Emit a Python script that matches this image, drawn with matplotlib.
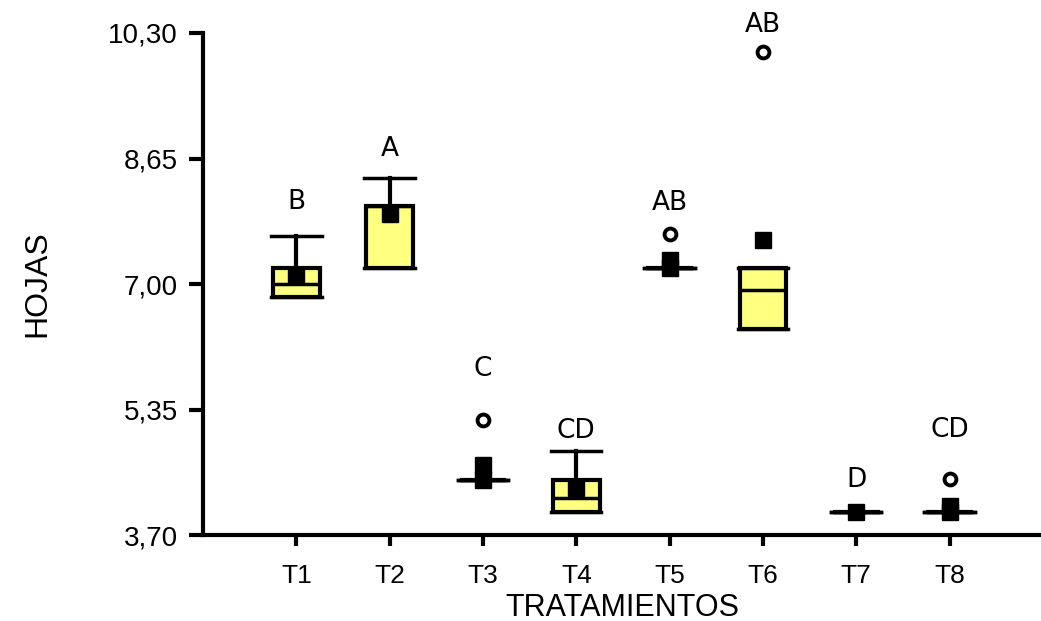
import matplotlib
matplotlib.use("Agg")
import matplotlib.pyplot as plt

categories = ["T1", "T2", "T3", "T4", "T5", "T6", "T7", "T8"]
q1 = [6.83, 7.21, 4.43, 4.00, 7.21, 6.41, 4.00, 4.00]
median = [7.00, 8.02, 4.43, 4.19, 7.21, 6.92, 4.00, 4.00]
q3 = [7.21, 8.02, 4.43, 4.43, 7.21, 7.21, 4.00, 4.00]
whis_lo = [6.83, 7.21, 4.43, 4.00, 7.21, 6.41, 4.00, 4.00]
whis_hi = [7.63, 8.40, 4.43, 4.81, 7.21, 7.21, 4.00, 4.00]
outliers = [[], [], [5.22], [], [7.66], [10.05], [], [4.44]]
means = [[7.12], [7.92], [4.62, 4.43], [4.32], [7.32, 7.21], [7.58], [4.00], [4.09, 4.00]]
letters = ["B", "A", "C", "CD", "AB", "AB", "D", "CD"]
letter_y = [8.08, 8.78, 5.88, 5.07, 8.07, 10.40, 4.43, 5.08]
yticks = [3.70, 5.35, 7.00, 8.65, 10.30]
ytick_labels = ["3,70", "5,35", "7,00", "8,65", "10,30"]

fig = plt.figure(figsize=(10.41, 6.21), dpi=100)
ax = fig.add_axes([0.195, 0.138, 0.805, 0.809])

positions = list(range(1, len(categories) + 1))
stats = []
for i in range(len(categories)):
    stats.append(dict(med=median[i], q1=q1[i], q3=q3[i], whislo=whis_lo[i],
                      whishi=whis_hi[i], fliers=outliers[i], label=categories[i]))

ax.bxp(stats, positions=positions, widths=0.5, patch_artist=True,
       showfliers=True,
       boxprops=dict(facecolor="#FFFF80", edgecolor="black", linewidth=3),
       medianprops=dict(color="black", linewidth=2.5),
       whiskerprops=dict(color="black", linewidth=3),
       capprops=dict(color="black", linewidth=2.5),
       capwidths=0.54,
       flierprops=dict(marker="o", markersize=8.5, markerfacecolor="white",
                       markeredgecolor="black", markeredgewidth=2.8))

for i, ms in enumerate(means):
    ax.plot([positions[i]] * len(ms), ms, linestyle="none", marker="s",
            markersize=11, color="black", zorder=5)

for i, lab in enumerate(letters):
    ax.text(positions[i], letter_y[i], lab, ha="center", va="center",
            fontsize=19, family="DejaVu Sans", clip_on=False)

ax.set_xlim(0, 8.98)
ax.set_ylim(3.70, 10.30)
ax.set_yticks(yticks)
ax.set_yticklabels(ytick_labels, family="Liberation Sans", fontsize=20)
ax.set_xticks(positions)
ax.set_xticklabels(categories, family="Liberation Sans", fontsize=19)
for s in ["top", "right"]:
    ax.spines[s].set_visible(False)
for s in ["left", "bottom"]:
    ax.spines[s].set_linewidth(3)
ax.tick_params(axis="y", direction="out", length=10, width=3, pad=8)
ax.tick_params(axis="x", direction="out", length=8, width=3, pad=13)

ax.set_xlabel("TRATAMIENTOS", family="Liberation Sans", fontsize=22, labelpad=3)
ax.set_ylabel("HOJAS", family="Liberation Sans", fontsize=23, labelpad=40)

fig.savefig("out.png", dpi=100)
